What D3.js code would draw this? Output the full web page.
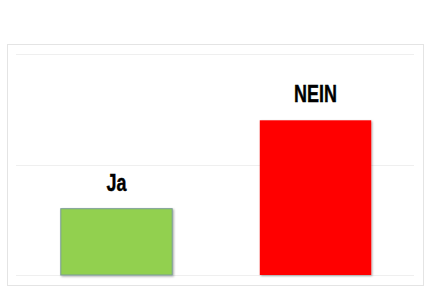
<!DOCTYPE html>
<html><head><meta charset="utf-8">
<script src="https://cdn.jsdelivr.net/npm/d3@7"></script>
<style>html,body{margin:0;padding:0;background:#fff;}svg{display:block;}</style>
</head><body>
<script>
const categories = ["Ja", "NEIN"];
const values = [30, 70];
const colors = ["#92d050", "#ff0000"];
const yTicks = [0, 50, 100];

const W = 440, H = 292;
const svg = d3.select("body").append("svg").attr("width", W).attr("height", H);

const defs = svg.append("defs");
const f = defs.append("filter").attr("id", "sh").attr("x", "-10%").attr("y", "-10%").attr("width", "130%").attr("height", "130%");
f.append("feDropShadow").attr("dx", 1).attr("dy", 1).attr("stdDeviation", 0.8).attr("flood-color", "#000").attr("flood-opacity", 0.35);

svg.append("rect").attr("x", 7.5).attr("y", 44.5).attr("width", 416).attr("height", 241)
  .attr("fill", "#fff").attr("stroke", "#e4e4e4").attr("stroke-width", 1);

const x = d3.scaleBand().domain(categories).range([17, 415]).paddingInner(0.44).paddingOuter(0.22);
const y = d3.scaleLinear().domain([0, 100]).range([275, 54]);

svg.append("g").selectAll("line").data(yTicks).join("line")
  .attr("x1", 16).attr("x2", 414)
  .attr("y1", d => Math.round(y(d)) + 0.5).attr("y2", d => Math.round(y(d)) + 0.5)
  .attr("stroke", "#efefef").attr("stroke-width", 1);

svg.append("g").selectAll("rect").data(values).join("rect")
  .attr("x", (d, i) => x(categories[i]))
  .attr("y", d => y(d))
  .attr("width", x.bandwidth())
  .attr("height", d => y(0) - y(d))
  .attr("fill", (d, i) => colors[i])
  .attr("stroke", (d, i) => i === 0 ? "#7a9c96" : "none")
  .attr("stroke-width", 1)
  .attr("filter", "url(#sh)");

svg.append("g").selectAll("text").data(values).join("text")
  .attr("transform", (d, i) => `translate(${x(categories[i]) + x.bandwidth() / 2},${y(d) - 18}) scale(0.78,1)`)
  .attr("text-anchor", "middle")
  .attr("font-family", "'Liberation Sans', Arial, sans-serif")
  .attr("font-weight", "bold")
  .attr("font-size", 23)
  .attr("fill", "#000")
  .attr("stroke", "#000")
  .attr("stroke-width", 0.4)
  .text((d, i) => categories[i]);
</script>
</body></html>
